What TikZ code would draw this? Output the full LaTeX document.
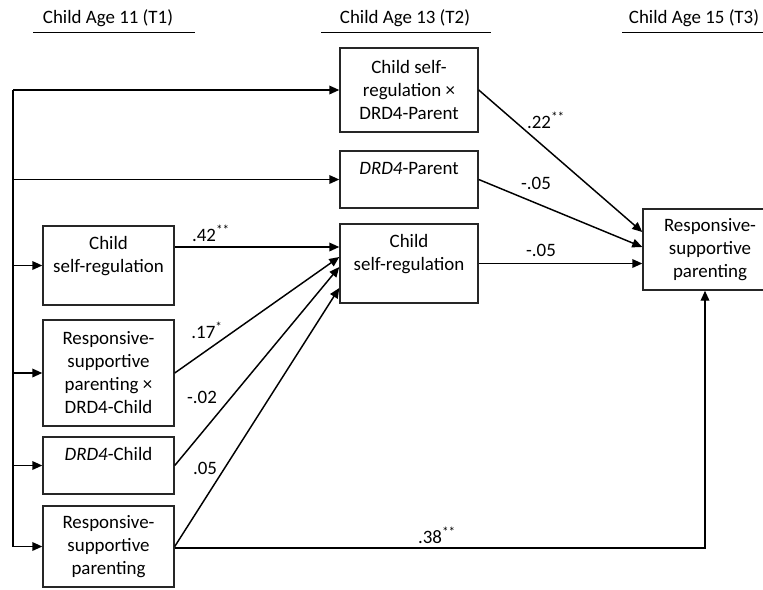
\documentclass[tikz,border=0pt]{standalone}
\usepackage{fontspec}
\setmainfont{Carlito}
\usetikzlibrary{arrows.meta,calc}
\begin{document}
\begin{tikzpicture}[x=0.75pt,y=-0.75pt,
  every node/.style={font=\fontsize{14.2pt}{17.25pt}\selectfont},
  box/.style={draw=black!85,line width=1.1pt,align=center,inner sep=0pt},
  lbl/.style={inner sep=0pt},
  hdr/.style={inner sep=0pt},
  ln/.style={draw=black,line width=1.1pt},
  arr/.style={draw=black,line width=1.1pt,-{Triangle[length=7.5pt,width=6.5pt]}}]
\useasboundingbox (0,0) rectangle (763,589);
\clip (0,0) rectangle (763,589);

% headers
\node[hdr] (h1) at (108,18) {Child Age 11 (T1)};
\node[hdr] (h2) at (405,18) {Child Age 13 (T2)};
\node[hdr] (h3) at (694,18) {Child Age 15 (T3)};
\coordinate (u1a) at (33,32.5); \coordinate (u1b) at (195,32.5);
\coordinate (u2a) at (321,32.5); \coordinate (u2b) at (491,32.5);
\coordinate (u3a) at (622,32.5); \coordinate (u3b) at (770,32.5);
\draw[ln] (u1a) -- (u1b);
\draw[ln] (u2a) -- (u2b);
\draw[ln] (u3a) -- (u3b);

% T2 column
\node[box,minimum width=103.5pt,minimum height=63pt] (top) at (409,90) {Child self-\\regulation ×\\DRD4-Parent};
\node[box,minimum width=103.5pt,minimum height=42.75pt] (dp) at (409,179.5) {\textit{DRD4}-Parent\\\mbox{}};
\node[box,minimum width=103.5pt,minimum height=59.25pt] (c2) at (409,263.5) {Child\\self-regulation\\\mbox{}};

% T1 column
\node[box,minimum width=98.25pt,minimum height=59.25pt] (c1) at (108.5,265.5) {Child\\self-regulation\\\mbox{}};
\node[box,minimum width=98.25pt,minimum height=79.5pt] (rd) at (108.5,373) {Responsive-\\supportive\\parenting ×\\DRD4-Child};
\node[box,minimum width=98.25pt,minimum height=42.75pt] (dc) at (108.5,465.5) {\textit{DRD4}-Child\\\mbox{}};
\node[box,minimum width=98.25pt,minimum height=60.75pt] (rsp) at (108.5,546.5) {Responsive-\\supportive\\parenting};

% T3
\node[box,minimum width=100.5pt,minimum height=60.75pt] (t3) at (710,249.5) {Responsive-\\supportive\\parenting};

% left trunk
\coordinate (L) at (13,0);
\draw[ln] (L |- top.west) -- (L |- rsp.west);
\foreach \n in {top,dp,c1,rd,dc,rsp} \draw[arr] (L |- \n.west) -- (\n.west);

% T1 -> T2
\draw[arr] ($(c1.east)+(0,-18.5)$) -- ($(c2.west)+(0,-16.5)$);
\draw[arr] (rd.east) -- ($(c2.west)+(0,-6.5)$);
\draw[arr] (dc.east) -- ($(c2.west)+(0,3.5)$);
\draw[arr] (rsp.east) -- ($(c2.west)+(0,24.5)$);

% T2 -> T3
\draw[arr] (top.east) -- ($(t3.west)+(0,-17.5)$);
\draw[arr] (dp.east) -- ($(t3.west)+(0,-2.5)$);
\draw[arr] (c2.east) -- (c2.east -| t3.west);
\draw[arr] ($(rsp.east)+(0,1.5)$) -| ($(t3.south)+(-5,0)$);

% labels
\node[lbl] (l42) at (211,233) {.42\textsuperscript{**}};
\node[lbl] (l17) at (207,330) {.17\textsuperscript{*}};
\node[lbl] (l02) at (202,397) {-.02};
\node[lbl] (l05) at (205,468) {.05};
\node[lbl] (l22) at (546,120) {.22\textsuperscript{**}};
\node[lbl] (l05a) at (536,183) {-.05};
\node[lbl] (l05b) at (541,250) {-.05};
\node[lbl] (l38) at (437,535) {.38\textsuperscript{**}};
\end{tikzpicture}
\end{document}
